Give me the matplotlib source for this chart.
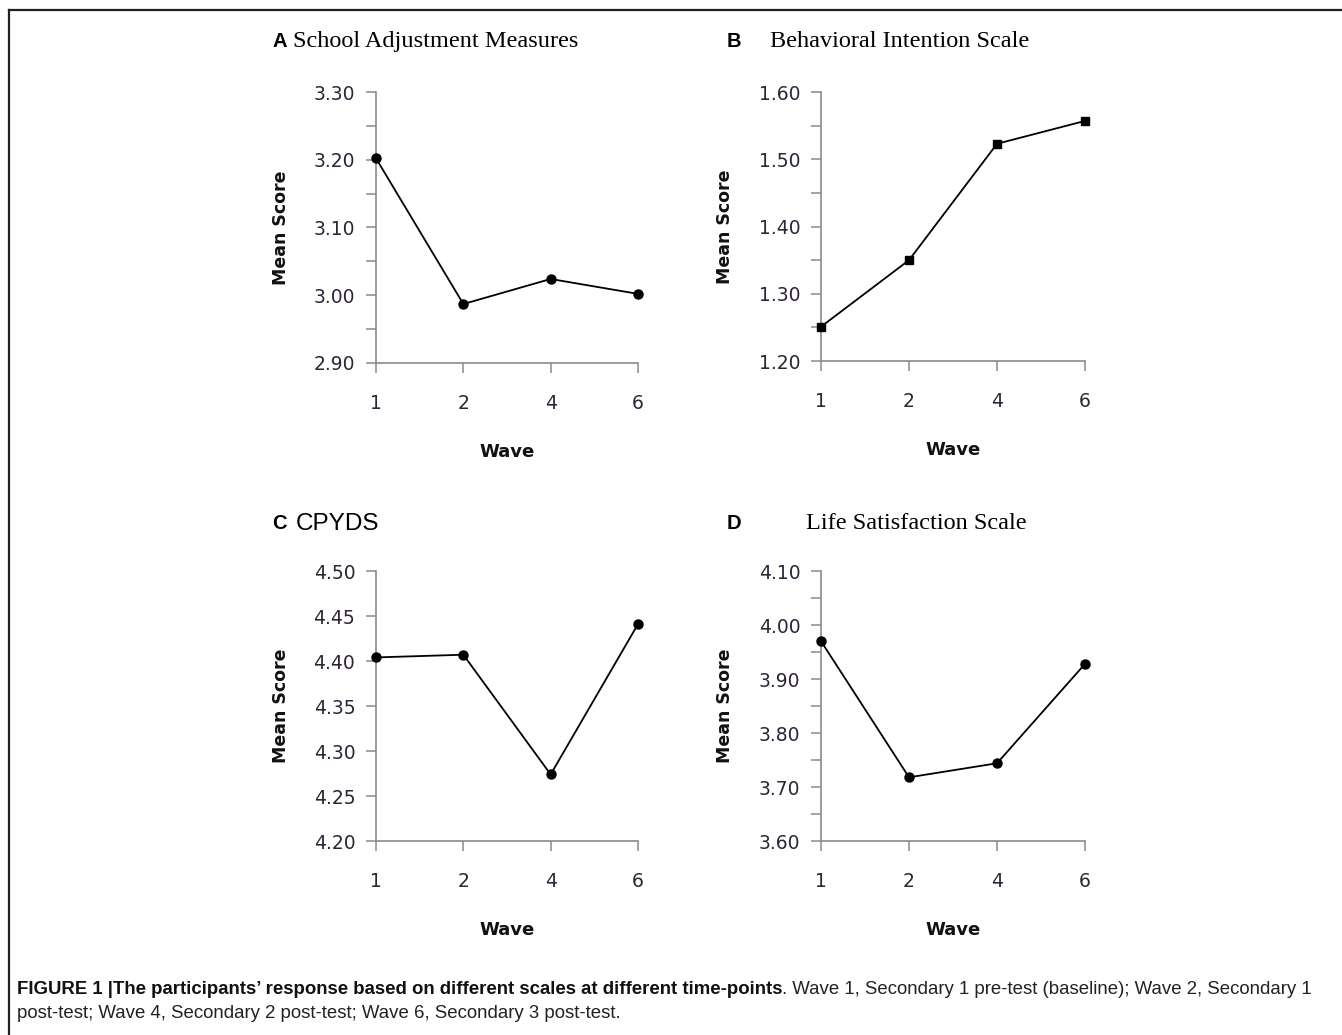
import matplotlib
matplotlib.use("Agg")
import matplotlib.pyplot as plt
from matplotlib.lines import Line2D
from matplotlib.ticker import MultipleLocator, FormatStrFormatter

waves = ["1", "2", "4", "6"]
school_adj = [3.202, 2.987, 3.024, 3.002]
behav_int = [1.251, 1.350, 1.523, 1.557]
cpyds = [4.404, 4.407, 4.274, 4.441]
life_sat = [3.970, 3.718, 3.744, 3.928]

panels = [
    dict(letter="A", title="School Adjustment Measures", tfont="Liberation Serif", tx=0.2183,
         vals=school_adj, ylim=(2.90, 3.30), major=0.10, minor=0.05, marker="o",
         rect=[0.2802, 0.6493, 0.1952, 0.2618], ty=0.960, lx=0.2027),
    dict(letter="B", title="Behavioral Intention Scale", tfont="Liberation Serif", tx=0.5738,
         vals=behav_int, ylim=(1.20, 1.60), major=0.10, minor=0.05, marker="s",
         rect=[0.6118, 0.6512, 0.1967, 0.2599], ty=0.960, lx=0.5417),
    dict(letter="C", title="CPYDS", tfont="Liberation Sans", tx=0.2205,
         vals=cpyds, ylim=(4.20, 4.50), major=0.05, minor=0.05, marker="o",
         rect=[0.2802, 0.1874, 0.1952, 0.2609], ty=0.494, lx=0.2027),
    dict(letter="D", title="Life Satisfaction Scale", tfont="Liberation Serif", tx=0.6006,
         vals=life_sat, ylim=(3.60, 4.10), major=0.10, minor=0.05, marker="o",
         rect=[0.6118, 0.1874, 0.1967, 0.2609], ty=0.494, lx=0.5417),
]

fig = plt.figure(figsize=(13.42, 10.35), dpi=100)
fig.patch.set_facecolor("white")

axis_col = "#8a8a8a"
tick_col = "#2e2438"

for p in panels:
    ax = fig.add_axes(p["rect"])
    x = list(range(len(waves)))
    ax.plot(x, p["vals"], color="black", lw=1.3, marker=p["marker"],
            markersize=6.5 if p["marker"] == "o" else 5.5, clip_on=False, zorder=5)
    ax.set_xlim(0, len(waves) - 1)
    ax.set_ylim(*p["ylim"])
    ax.set_xticks(x)
    ax.set_xticklabels(waves)
    ax.yaxis.set_major_locator(MultipleLocator(p["major"]))
    ax.yaxis.set_minor_locator(MultipleLocator(p["minor"]))
    ax.yaxis.set_major_formatter(FormatStrFormatter("%.2f"))
    for s in ["top", "right"]:
        ax.spines[s].set_visible(False)
    for s in ["left", "bottom"]:
        ax.spines[s].set_color(axis_col)
        ax.spines[s].set_linewidth(1.2)
    ax.tick_params(axis="y", which="both", direction="out", length=7, width=1.1,
                   color=axis_col, labelsize=13.5, labelcolor=tick_col, pad=8)
    ax.tick_params(axis="x", which="both", direction="out", length=7, width=1.1,
                   color=axis_col, labelsize=13.5, labelcolor=tick_col, pad=15)
    for lab in ax.get_xticklabels() + ax.get_yticklabels():
        lab.set_family("DejaVu Sans")
    ax.set_ylabel("Mean Score", fontsize=12.5, fontweight="bold", family="DejaVu Sans",
                  color="#111111", labelpad=12)
    ax.set_xlabel("Wave", fontsize=13, fontweight="bold", family="DejaVu Sans",
                  color="#111111", labelpad=22)
    ax.yaxis.set_label_coords(-0.33, 0.5)
    fig.text(p["lx"], p["ty"], p["letter"], fontsize=14.5, fontweight="bold",
             family="Liberation Sans", va="center", ha="left")
    fig.text(p["tx"], p["ty"], p["title"], fontsize=17.5, family=p["tfont"],
             va="center", ha="left")

# frame lines
fig.add_artist(Line2D([9 / 1342, 9 / 1342], [0, 1 - 10 / 1035], transform=fig.transFigure,
                      color="#222222", lw=1.6))
fig.add_artist(Line2D([9 / 1342, 1], [1 - 10 / 1035, 1 - 10 / 1035], transform=fig.transFigure,
                      color="#222222", lw=1.6))

# caption
cap_bold = "FIGURE 1 |The participants\u2019 response based on different scales at different time-points"
cap_rest = ". Wave 1, Secondary 1 pre-test (baseline); Wave 2, Secondary 1"
cap_line2 = "post-test; Wave 4, Secondary 2 post-test; Wave 6, Secondary 3 post-test."
cap_fs = 13.4
t1 = fig.text(17 / 1342, 1 - 989 / 1035, cap_bold, fontsize=cap_fs, fontweight="bold",
              family="Liberation Sans", va="center", ha="left", color="#111111")
fig.canvas.draw()
bb = t1.get_window_extent(renderer=fig.canvas.get_renderer())
x_end = bb.x1 / fig.bbox.width
fig.text(x_end, 1 - 989 / 1035, cap_rest, fontsize=cap_fs, family="Liberation Sans",
         va="center", ha="left", color="#222222")
fig.text(17 / 1342, 1 - 1014 / 1035, cap_line2, fontsize=cap_fs, family="Liberation Sans",
         va="center", ha="left", color="#222222")

fig.savefig("out.png", dpi=100, facecolor="white")
